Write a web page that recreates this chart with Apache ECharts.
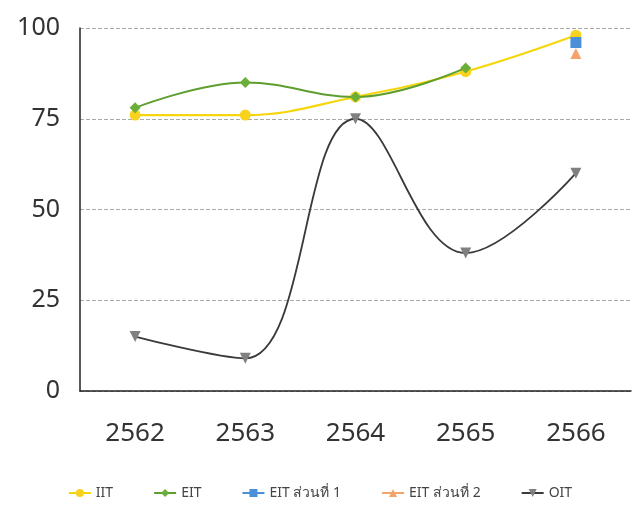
<!DOCTYPE html>
<html><head><meta charset="utf-8">
<script src="https://cdn.jsdelivr.net/npm/echarts@6/dist/echarts.min.js"></script>
<style>html,body{margin:0;padding:0;background:#fff}#c{width:640px;height:506px}</style>
</head><body><div id="c"></div>
<script>
const categories = ['2562','2563','2564','2565','2566'];
const iit = [76, 76, 81, 88, 98];
const eit = [78, 85, 81, 89, null];
const eit1 = [null, null, null, null, 96];
const eit2 = [null, null, null, null, 93];
const oit = [15, 9, 75, 38, 60];
const yTicks = [0, 25, 50, 75, 100];

const chart = echarts.init(document.getElementById('c'));
const font = 'Noto Sans';
chart.setOption({
  animation: false,
  textStyle: { fontFamily: font },
  grid: { left: 80, right: 9, top: 28, bottom: 115 },
  xAxis: {
    type: 'category', data: categories, boundaryGap: true,
    axisLine: { lineStyle: { color: '#222', width: 1.5 } },
    axisTick: { show: false },
    axisLabel: { fontSize: 26, color: '#333', margin: 30, fontFamily: font }
  },
  yAxis: {
    type: 'value', min: 0, max: 100, interval: 25,
    axisLine: { show: true, lineStyle: { color: '#222', width: 1.5 } },
    axisTick: { show: false },
    axisLabel: { fontSize: 25, color: '#333', margin: 20, fontFamily: font,
      formatter: v => yTicks.includes(v) ? String(v) : '' },
    splitLine: { lineStyle: { color: '#aaa', type: 'dashed', width: 1 } }
  },
  legend: {
    bottom: 1, left: 'center', itemGap: 40, itemWidth: 22, itemHeight: 10,
    textStyle: { fontSize: 14, color: '#444', fontFamily: font },
    data: ['IIT', 'EIT', 'EIT ส่วนที่ 1', 'EIT ส่วนที่ 2', 'OIT']
  },
  series: [
    { name: 'OIT', type: 'line', smooth: 0.4, data: oit, symbol: 'triangle', symbolRotate: 180, symbolSize: 11,
      lineStyle: { color: '#3a3a3a', width: 1.8 }, itemStyle: { color: '#808080' }, z: 2 },
    { name: 'IIT', type: 'line', smooth: 0.4, data: iit, symbol: 'circle', symbolSize: 11,
      lineStyle: { color: '#F5D60A', width: 2.2 }, itemStyle: { color: '#F8D21C' }, z: 3 },
    { name: 'EIT', type: 'line', smooth: 0.4, data: eit, symbol: 'diamond', symbolSize: 11,
      lineStyle: { color: '#5E9E2E', width: 2 }, itemStyle: { color: '#6BAF38' }, z: 4 },
    { name: 'EIT ส่วนที่ 1', type: 'line', data: eit1, symbol: 'rect', symbolSize: 11,
      lineStyle: { color: '#4A90D9', width: 2 }, itemStyle: { color: '#4A90D9' }, z: 5 },
    { name: 'EIT ส่วนที่ 2', type: 'line', data: eit2, symbol: 'triangle', symbolSize: 11,
      lineStyle: { color: '#F4A46A', width: 2 }, itemStyle: { color: '#F4A46A' }, z: 5 }
  ]
});
</script></body></html>
